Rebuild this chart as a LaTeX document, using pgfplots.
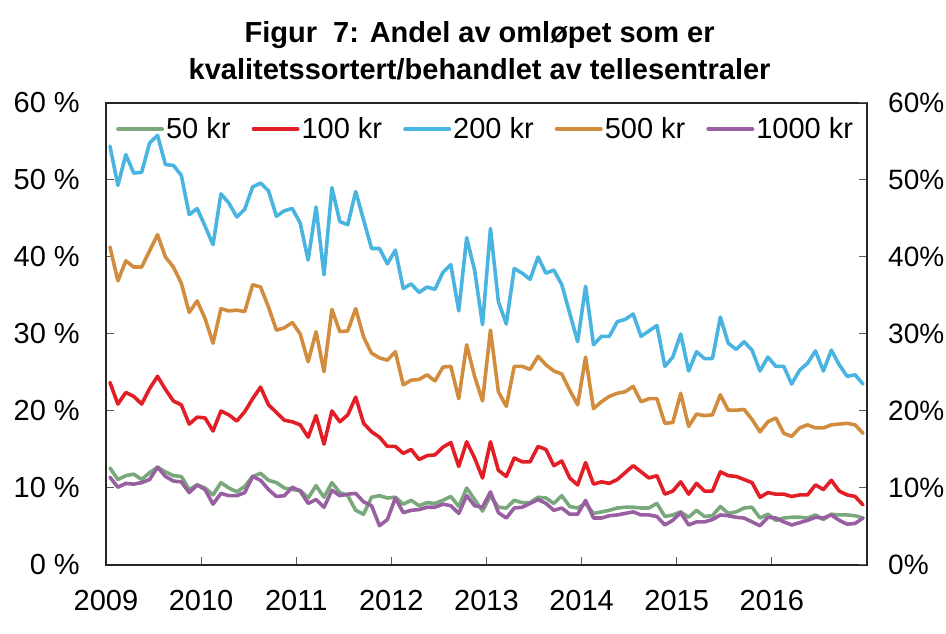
\documentclass[border=0pt]{standalone}
\usepackage{pgfplots}
\usepackage{pgfplotstable}
\pgfplotsset{compat=1.18}
\usepackage{fontspec}
\setmainfont{Liberation Sans}
\definecolor{c50}{RGB}{122,168,125}
\definecolor{c100}{RGB}{226,30,38}
\definecolor{c200}{RGB}{74,180,224}
\definecolor{c500}{RGB}{210,140,62}
\definecolor{c1000}{RGB}{152,96,160}
\pgfplotstableread{
i a50 a100 a200 a500 a1000
0 12.6 23.7 54.4 41.3 11.4
1 11.1 20.9 49.3 36.9 10.1
2 11.6 22.4 53.3 39.5 10.6
3 11.8 21.9 50.9 38.7 10.5
4 11.1 20.9 51.0 38.7 10.7
5 12.0 22.9 54.8 40.8 11.1
6 12.7 24.5 55.8 42.9 12.7
7 12.1 22.8 52.0 40.0 11.5
8 11.6 21.3 51.9 38.7 10.9
9 11.5 20.8 50.6 36.6 10.8
10 9.8 18.3 45.5 32.8 9.4
11 10.4 19.2 46.3 34.3 10.4
12 10.0 19.1 44.0 32.0 9.8
13 9.1 17.4 41.6 28.8 7.9
14 10.7 20.0 48.2 33.3 9.3
15 10.0 19.5 47.0 33.0 9.0
16 9.5 18.7 45.2 33.1 9.0
17 10.2 19.9 46.2 32.9 9.4
18 11.5 21.6 49.1 36.4 11.5
19 11.9 23.1 49.6 36.1 11.0
20 11.0 20.8 48.6 33.5 9.8
21 10.7 19.8 45.3 30.5 8.9
22 10.0 18.8 46.0 30.8 9.0
23 9.8 18.6 46.3 31.5 10.1
24 9.7 18.2 44.4 30.0 9.6
25 8.7 16.6 39.6 26.4 8.0
26 10.3 19.4 46.5 30.3 8.5
27 8.8 15.7 37.7 25.1 7.5
28 10.7 20.0 49.0 33.2 9.7
29 9.4 18.6 44.6 30.3 9.0
30 9.0 19.5 44.2 30.4 9.2
31 7.1 21.8 48.5 33.3 9.3
32 6.6 18.4 44.8 29.6 8.2
33 8.8 17.3 41.1 27.5 7.7
34 9.0 16.6 41.1 26.9 5.1
35 8.7 15.4 39.1 26.6 5.9
36 8.8 15.4 40.9 27.7 8.7
37 7.9 14.5 35.9 23.4 6.8
38 8.4 15.0 36.5 24.0 7.1
39 7.7 13.7 35.4 24.1 7.2
40 8.1 14.2 36.1 24.7 7.5
41 8.0 14.3 35.8 23.9 7.5
42 8.4 15.3 38.0 25.7 7.9
43 8.9 15.9 39.0 25.8 7.7
44 7.6 12.8 33.0 21.6 6.7
45 10.0 16.0 42.5 28.6 9.0
46 8.5 13.9 38.3 24.5 7.7
47 7.0 11.3 31.2 21.3 7.5
48 9.0 16.0 43.7 30.5 9.5
49 7.5 12.3 34.2 22.5 6.8
50 7.4 11.5 31.3 20.6 6.1
51 8.4 13.9 38.5 25.8 7.4
52 8.1 13.4 37.9 25.8 7.5
53 8.1 13.4 37.1 25.4 8.0
54 8.8 15.4 40.0 27.1 8.5
55 8.7 15.0 37.9 26.0 8.0
56 8.0 12.9 38.3 25.2 7.1
57 9.0 13.5 36.4 24.8 7.4
58 7.6 11.3 32.7 22.7 6.6
59 7.4 10.4 29.0 20.8 6.6
60 8.0 13.3 36.2 27.0 8.4
61 6.7 10.5 28.6 20.3 6.1
62 6.9 10.8 29.7 21.2 6.1
63 7.1 10.6 29.7 21.9 6.4
64 7.4 11.1 31.6 22.3 6.5
65 7.5 12.0 31.9 22.5 6.7
66 7.5 12.9 32.6 23.2 6.9
67 7.4 12.1 29.7 21.2 6.5
68 7.4 11.3 30.4 21.6 6.5
69 8.0 11.6 31.1 21.6 6.3
70 6.3 9.2 25.8 18.4 5.2
71 6.5 9.6 27.0 18.5 5.8
72 6.9 10.8 30.0 22.3 6.8
73 6.2 9.2 25.2 18.0 5.2
74 7.1 10.6 27.7 19.6 5.6
75 6.3 9.6 26.8 19.4 5.6
76 6.4 9.6 26.8 19.5 5.9
77 7.6 12.1 32.2 22.1 6.5
78 6.7 11.6 28.8 20.1 6.4
79 6.9 11.5 28.0 20.1 6.2
80 7.4 11.1 29.0 20.2 6.1
81 7.5 10.7 27.9 18.9 5.6
82 6.1 8.8 25.2 17.3 5.1
83 6.6 9.4 27.0 18.6 6.2
84 5.8 9.2 25.8 19.1 6.1
85 6.1 9.2 25.8 17.1 5.6
86 6.2 8.9 23.5 16.7 5.2
87 6.2 9.1 25.3 17.8 5.5
88 6.1 9.1 26.2 18.2 5.8
89 6.5 10.4 27.8 17.8 6.2
90 5.9 9.8 25.2 17.8 6.1
91 6.6 11.0 27.9 18.2 6.5
92 6.5 9.6 26.0 18.3 5.8
93 6.5 9.1 24.5 18.4 5.3
94 6.4 8.9 24.7 18.2 5.4
95 6.1 7.8 23.5 17.1 6.1
}\datatable
\begin{document}
\begin{tikzpicture}
\useasboundingbox (-106pt,-69pt) rectangle (840pt,565pt);
\begin{axis}[
  at={(0pt,0pt)}, anchor=south west,
  scale only axis, width=761pt, height=462pt,
  xmin=-0.5, xmax=95.5, ymin=0, ymax=60,
  clip=false,
  font=\fontsize{29}{34}\selectfont,
  xtick={-0.5,11.5,23.5,35.5,47.5,59.5,71.5,83.5},
  xticklabels={2009,2010,2011,2012,2013,2014,2015,2016},
  ytick={0,10,20,30,40,50,60},
  yticklabels={0 \%,10 \%,20 \%,30 \%,40 \%,50 \%,60 \%},
  xtick pos=bottom, ytick pos=left,
  tick align=inside,
  major tick length=8pt,
  axis line style={black!85, line width=1.2pt},
  tick style={black!65, line width=1pt},
  xticklabel style={anchor=north, inner sep=0pt, yshift=-25pt},
  yticklabel style={anchor=east, inner sep=0pt, xshift=-26pt},
  legend columns=5,
  legend style={draw=none, fill=none, at={(0.013,0.973)}, anchor=north west,
    inner sep=0pt, font=\fontsize{29}{34}\selectfont,
    nodes={inner sep=2pt},
    /tikz/every odd column/.append style={column sep=0pt},
    /tikz/every even column/.append style={column sep=19pt}},
  legend image code/.code={\draw[#1, line width=4pt, line cap=round] (0pt,0pt) -- (44pt,0pt);},
  every axis plot/.append style={line width=3.6pt, line join=round, line cap=round},
]
\addplot[c50] table[x=i, y=a50] {\datatable};
\addlegendentry{50 kr}
\addplot[c100] table[x=i, y=a100] {\datatable};
\addlegendentry{100 kr}
\addplot[c200] table[x=i, y=a200] {\datatable};
\addlegendentry{200 kr}
\addplot[c500] table[x=i, y=a500] {\datatable};
\addlegendentry{500 kr}
\addplot[c1000] table[x=i, y=a1000] {\datatable};
\addlegendentry{1000 kr}
\node[anchor=base, font=\fontsize{29}{34}\selectfont\bfseries] at (rel axis cs:0.491,1) [yshift=60pt] {Figur\ \ 7: Andel av omløpet som er};
\node[anchor=base, font=\fontsize{29}{34}\selectfont\bfseries] at (rel axis cs:0.491,1) [yshift=23pt] {kvalitetssortert/behandlet av tellesentraler};
\end{axis}
\begin{axis}[
  at={(0pt,0pt)}, anchor=south west,
  scale only axis, width=761pt, height=462pt,
  xmin=-0.5, xmax=95.5, ymin=0, ymax=60,
  font=\fontsize{28}{33}\selectfont,
  axis x line=none, axis y line*=right,
  ytick={0,10,20,30,40,50,60},
  yticklabels={0\%,10\%,20\%,30\%,40\%,50\%,60\%},
  tick align=inside,
  major tick length=8pt,
  axis line style={black!85, line width=1.2pt, -},
  tick style={black!65, line width=1pt},
  yticklabel style={anchor=west, inner sep=0pt, xshift=21pt},
]
\addplot[draw=none] coordinates {(0,0)};
\end{axis}
\end{tikzpicture}
\end{document}
